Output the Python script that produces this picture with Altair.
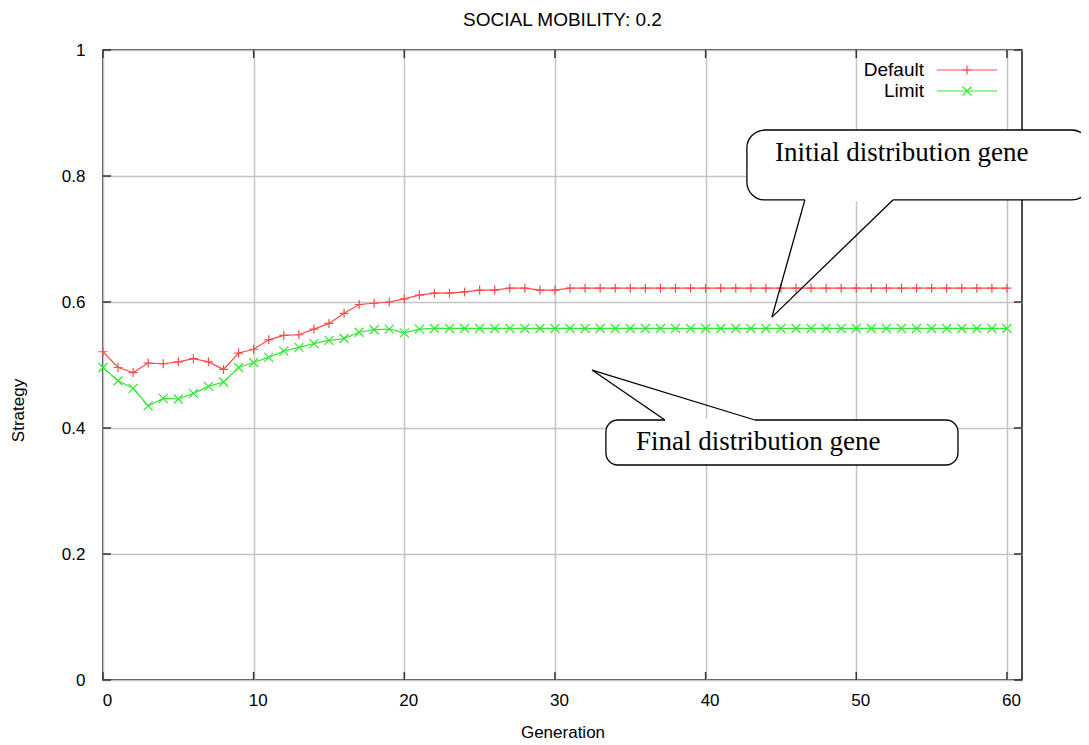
import altair as alt
import pandas as pd

# ---------------- data ----------------
GENERATIONS = list(range(61))
DEFAULT = [0.521, 0.496, 0.488, 0.503, 0.502, 0.505, 0.510, 0.505, 0.493, 0.519,
           0.525, 0.540, 0.547, 0.548, 0.557, 0.566, 0.582, 0.596, 0.598, 0.600,
           0.605, 0.611, 0.614, 0.614, 0.616, 0.619, 0.619, 0.622, 0.622, 0.619,
           0.619, 0.622, 0.622, 0.622, 0.622, 0.622, 0.622, 0.622, 0.622, 0.622,
           0.622, 0.622, 0.622, 0.622, 0.622, 0.622, 0.622, 0.622, 0.622, 0.622,
           0.622, 0.622, 0.622, 0.622, 0.622, 0.622, 0.622, 0.622, 0.622, 0.622,
           0.622]
LIMIT = [0.496, 0.475, 0.463, 0.435, 0.447, 0.446, 0.455, 0.466, 0.473, 0.496,
         0.504, 0.512, 0.522, 0.528, 0.534, 0.539, 0.542, 0.552, 0.556, 0.557,
         0.551, 0.557, 0.558, 0.558, 0.558, 0.558, 0.558, 0.558, 0.558, 0.558,
         0.558, 0.558, 0.558, 0.558, 0.558, 0.558, 0.558, 0.558, 0.558, 0.558,
         0.558, 0.558, 0.558, 0.558, 0.558, 0.558, 0.558, 0.558, 0.558, 0.558,
         0.558, 0.558, 0.558, 0.558, 0.558, 0.558, 0.558, 0.558, 0.558, 0.558,
         0.558]
SERIES = ["Default", "Limit"]
X_TICKS = [0, 10, 20, 30, 40, 50, 60]
Y_TICKS = [0, 0.2, 0.4, 0.6, 0.8, 1]
TITLE = "SOCIAL MOBILITY: 0.2"
X_TITLE = "Generation"
Y_TITLE = "Strategy"

# callout annotations (in data units)
CALLOUT_TEXT = ["Initial distribution gene", "Final distribution gene"]
CALLOUT_TEXT_X = [44.6, 35.38]
CALLOUT_TEXT_Y = [0.824, 0.365]
BOX_X1 = [42.74, 33.38]
BOX_X2 = [65.5, 56.75]
BOX_Y1 = [0.873, 0.4127]
BOX_Y2 = [0.762, 0.3413]
TAIL_BASE_Y = [0.762, 0.4127]
TAIL_BASE_XL = [46.59, 37.30]
TAIL_BASE_XR = [52.43, 43.27]
TAIL_TIP_X = [44.40, 32.46]
TAIL_TIP_Y = [0.576, 0.492]

# ---------------- styles ----------------
COLORS = ["#ff4a4a", "#33e833"]
SHAPES = ["M-1,0L1,0M0,-1L0,1", "M-1,-1L1,1M-1,1L1,-1"]
FONT = "Liberation Sans"
SERIF = "Liberation Serif"
W, H = 919, 630
RADII = [18, 12]

df = pd.DataFrame({
    "generation": GENERATIONS * 2,
    "value": DEFAULT + LIMIT,
    "series": [SERIES[0]] * len(GENERATIONS) + [SERIES[1]] * len(GENERATIONS),
})

x_scale = alt.Scale(domain=[0, 61], nice=False, zero=False)
y_scale = alt.Scale(domain=[0, 1], nice=False, zero=False)

x_axis = alt.Axis(values=X_TICKS, format="d", title=X_TITLE, grid=True,
                  gridColor="#c4c4c4", gridWidth=1.5, ticks=False, domain=False,
                  labelPadding=12, labelOffset=4, labelFlush=False, labelFont=FONT,
                  labelFontSize=17, labelColor="#000", titleFont=FONT, titleFontSize=17,
                  titleFontWeight="normal", titleColor="#000", titleY=52,
                  titleBaseline="middle")
y_axis = alt.Axis(values=Y_TICKS, format="~g", title=Y_TITLE, grid=True,
                  gridColor="#c4c4c4", gridWidth=1.5, ticks=False, domain=False,
                  labelPadding=18, labelFlush=False, labelFont=FONT, labelFontSize=17,
                  labelColor="#000", titleFont=FONT, titleFontSize=17,
                  titleFontWeight="normal", titleColor="#000", titleX=-85, titleY=360,
                  titleAlign="center", titleBaseline="middle", titleAngle=270)


def X(field):
    return alt.X(field, type="quantitative", scale=x_scale, axis=x_axis)


def Y(field):
    return alt.Y(field, type="quantitative", scale=y_scale, axis=y_axis)


color = alt.Color("series:N", scale=alt.Scale(domain=SERIES, range=COLORS), legend=None)
shape = alt.Shape("series:N", scale=alt.Scale(domain=SERIES, range=SHAPES), legend=None)

lines = alt.Chart(df).mark_line(strokeWidth=1.2).encode(
    x=X("generation"), y=Y("value"), color=color)
points = alt.Chart(df).mark_point(filled=False, size=81, strokeWidth=1.2, opacity=1).encode(
    x=X("generation"), y=Y("value"), color=color, shape=shape)

# inward tick marks on all four sides
yt = pd.DataFrame({"v": Y_TICKS})
xt = pd.DataFrame({"v": X_TICKS})
tick_style = dict(color="#333", strokeWidth=1.5)
ticks = [
    alt.Chart(yt).mark_rule(**tick_style).encode(y=Y("v"), x=alt.value(0), x2=alt.value(8)),
    alt.Chart(yt).mark_rule(**tick_style).encode(y=Y("v"), x=alt.value(W - 8), x2=alt.value(W)),
    alt.Chart(xt).mark_rule(**tick_style).encode(x=X("v"), y=alt.value(H), y2=alt.value(H - 8)),
    alt.Chart(xt).mark_rule(**tick_style).encode(x=X("v"), y=alt.value(0), y2=alt.value(8)),
]

# chart title as a text mark centred over the plot
title_layer = alt.Chart(pd.DataFrame({"t": [TITLE]})).mark_text(
    align="center", baseline="alphabetic", font=FONT, fontSize=19, color="#000").encode(
    text="t:N", x=alt.value(W / 2), y=alt.value(-24))

# legend inside plot (top right)
legend_layers = []
for i, name in enumerate(SERIES):
    ly = 20 + 21 * i
    ld = pd.DataFrame({"series": [name]})
    legend_layers.append(alt.Chart(ld).mark_text(align="right", baseline="middle", font=FONT,
                                                 fontSize=19, color="#000").encode(
        text="series:N", x=alt.value(821), y=alt.value(ly)))
    legend_layers.append(alt.Chart(ld).mark_rule(color=COLORS[i], strokeWidth=1.2).encode(
        x=alt.value(834), x2=alt.value(894), y=alt.value(ly)))
    legend_layers.append(alt.Chart(ld).mark_point(shape=SHAPES[i], filled=False, size=81,
                                                  strokeWidth=1.2, color=COLORS[i], opacity=1).encode(
        x=alt.value(864), y=alt.value(ly)))

# callouts
callout_layers = []
for i, txt in enumerate(CALLOUT_TEXT):
    cd = pd.DataFrame({
        "bx1": [BOX_X1[i]], "bx2": [BOX_X2[i]], "by1": [BOX_Y1[i]], "by2": [BOX_Y2[i]],
        "tb": [TAIL_BASE_Y[i]], "tl": [TAIL_BASE_XL[i]], "tr": [TAIL_BASE_XR[i]],
        "tx": [TAIL_TIP_X[i]], "ty": [TAIL_TIP_Y[i]],
        "lx": [CALLOUT_TEXT_X[i]], "ly": [CALLOUT_TEXT_Y[i]], "text": [txt],
    })
    c = alt.Chart(cd)
    callout_layers += [
        c.mark_rect(fill="white", stroke="black", strokeWidth=1.3,
                    cornerRadius=RADII[i]).encode(x=X("bx1"), x2="bx2", y=Y("by1"), y2="by2"),
        c.mark_rule(color="white", strokeWidth=3).encode(x=X("tl"), x2="tr", y=Y("tb"), y2="tb"),
        c.mark_rule(color="black", strokeWidth=1.3).encode(x=X("tl"), x2="tx", y=Y("tb"), y2="ty"),
        c.mark_rule(color="black", strokeWidth=1.3).encode(x=X("tr"), x2="tx", y=Y("tb"), y2="ty"),
        c.mark_text(align="left", baseline="alphabetic", font=SERIF, fontSize=27,
                    color="#000").encode(x=X("lx"), y=Y("ly"), text="text:N"),
    ]

chart = alt.layer(lines, points, *ticks, title_layer, *legend_layers, *callout_layers).properties(
    width=W, height=H,
    autosize=alt.AutoSizeParams(type="none"),
    padding={"left": 95, "top": 42, "right": 59, "bottom": 63},
    background="white",
).configure_view(stroke="#111", strokeWidth=1.5)

chart.save("out.html", embed_options={"renderer": "svg", "actions": False})
